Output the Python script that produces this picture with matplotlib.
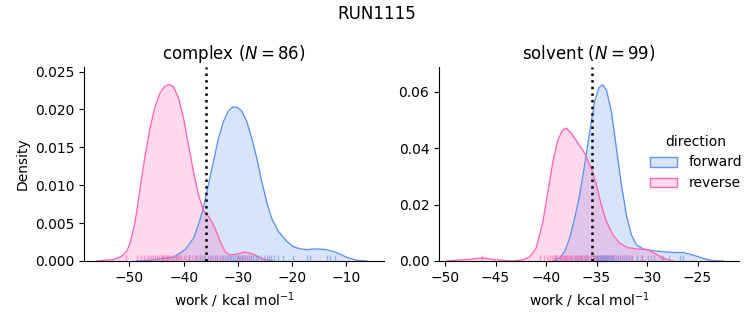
import matplotlib
matplotlib.use("Agg")
import matplotlib.pyplot as plt
import seaborn as sns
from matplotlib.patches import Patch
from matplotlib.colors import to_rgba

# colours per direction
fwd_color = "#6495ED"
rev_color = "#FF69B4"

# ---- complex phase: kde curves ----
cx_fwd_x = [-48.64, -46.18, -44.34, -41.88, -39.72, -38.19, -37.26, -36.34, -35.42, -34.50,
            -33.57, -32.65, -31.73, -30.93, -30.19, -29.27, -28.34, -27.42, -26.50, -25.58,
            -24.66, -23.73, -22.50, -20.96, -19.74, -18.51, -17.27, -15.43, -13.58, -11.74,
            -9.90, -8.05, -6.20]
cx_fwd_y = [0.0, 0.0001, 0.0003, 0.0005, 0.0015, 0.0030, 0.0048, 0.0070, 0.0101, 0.0131,
            0.0162, 0.0184, 0.0198, 0.0203, 0.0203, 0.0198, 0.0184, 0.0162, 0.0136, 0.0105,
            0.0078, 0.0056, 0.0039, 0.0026, 0.0019, 0.0016, 0.0015, 0.0016, 0.0015, 0.0011,
            0.0005, 0.0001, 0.0]
cx_rev_x = [-56.02, -52.95, -51.50, -50.49, -49.87, -48.95, -48.03, -47.10, -46.18, -45.26,
            -44.34, -43.41, -42.61, -41.88, -40.95, -40.03, -39.11, -38.19, -37.26, -36.34,
            -35.11, -34.19, -33.26, -32.34, -31.42, -30.19, -28.65, -27.12, -25.58, -23.43]
cx_rev_y = [0.0, 0.0002, 0.0006, 0.0013, 0.0024, 0.0052, 0.0096, 0.0140, 0.0176, 0.0204,
            0.0222, 0.0231, 0.0233, 0.0230, 0.0215, 0.0189, 0.0153, 0.0118, 0.0087, 0.0067,
            0.0056, 0.0043, 0.0026, 0.0012, 0.0008, 0.0009, 0.0012, 0.0009, 0.0003, 0.0]

# ---- solvent phase: kde curves ----
sv_fwd_x = [-39.32, -38.66, -38.16, -37.67, -37.17, -36.68, -36.18, -35.68, -35.19, -34.76,
            -34.42, -34.03, -33.53, -33.04, -32.54, -32.05, -31.55, -31.05, -30.39, -29.73,
            -28.74, -27.42, -26.43, -25.43, -24.44, -23.45, -22.46]
sv_fwd_y = [0.0, 0.0010, 0.0033, 0.0080, 0.0151, 0.0234, 0.0341, 0.0459, 0.0566, 0.0615,
            0.0625, 0.0607, 0.0530, 0.0400, 0.0270, 0.0163, 0.0092, 0.0057, 0.0043, 0.0038,
            0.0034, 0.0030, 0.0030, 0.0021, 0.0009, 0.0001, 0.0]
sv_rev_x = [-49.90, -47.59, -46.27, -44.94, -43.29, -42.30, -41.64, -40.98, -40.31, -39.82,
            -39.32, -38.83, -38.33, -38.00, -37.50, -36.84, -36.18, -35.52, -35.02, -34.53,
            -34.03, -33.37, -32.71, -31.88, -31.05, -29.90, -29.40, -28.41, -27.42]
sv_rev_y = [0.0, 0.0006, 0.0011, 0.0004, 0.0, 0.0004, 0.0014, 0.0045, 0.0140, 0.0246,
            0.0353, 0.0430, 0.0465, 0.0471, 0.0453, 0.0418, 0.0382, 0.0329, 0.0270, 0.0199,
            0.0140, 0.0092, 0.0063, 0.0047, 0.0043, 0.0040, 0.0030, 0.0010, 0.0]

# ---- individual work values (rug) ----
cx_fwd_work = [-41.5, -39.0, -37.8, -36.9, -36.2, -35.5, -34.9, -34.3, -33.8, -33.2,
               -32.8, -32.3, -31.9, -31.5, -31.2, -30.8, -30.5, -30.2, -29.9, -29.6,
               -29.3, -29.0, -28.6, -28.3, -27.9, -27.5, -27.1, -26.7, -26.2, -25.8,
               -25.2, -24.6, -24.2, -23.9, -23.3, -22.5, -21.6, -19.8, -17.3, -16.7,
               -13.6, -13.0, -12.0]
cx_rev_work = [-50.7, -48.6, -47.9, -47.3, -46.8, -46.4, -46.0, -45.6, -45.2, -44.9,
               -44.5, -44.2, -44.0, -43.9, -43.6, -43.3, -43.0, -42.9, -42.7, -42.4,
               -42.1, -41.8, -41.5, -41.1, -40.8, -40.4, -40.0, -39.5, -39.0, -38.5,
               -37.9, -37.3, -36.6, -36.0, -35.2, -34.5, -33.8, -33.0, -32.0, -29.8,
               -29.3, -28.6, -28.0]
sv_fwd_work = [-39.0, -38.2, -37.6, -37.1, -36.7, -36.4, -36.1, -35.8, -35.6, -35.4,
               -35.3, -35.2, -35.0, -34.95, -34.9, -34.8, -34.7, -34.6, -34.55, -34.5,
               -34.4, -34.3, -34.25, -34.2, -34.1, -34.0, -33.95, -33.9, -33.8, -33.7,
               -33.6, -33.5, -33.4, -33.3, -33.1, -32.9, -32.7, -32.5, -32.3, -32.1,
               -31.8, -31.5, -31.0, -30.5, -29.9, -29.3, -28.4, -27.8, -26.7, -26.4]
sv_rev_work = [-46.3, -40.6, -40.2, -39.9, -39.6, -39.4, -39.2, -39.1, -39.0, -38.8,
               -38.6, -38.5, -38.4, -38.2, -38.1, -38.0, -37.9, -37.8, -37.6, -37.5,
               -37.4, -37.2, -37.0, -36.9, -36.8, -36.6, -36.5, -36.4, -36.2, -36.0,
               -35.9, -35.8, -35.6, -35.4, -35.3, -35.1, -34.8, -34.5, -34.2, -33.9,
               -33.6, -33.3, -32.9, -32.5, -32.0, -31.6, -30.6, -29.6, -28.6]

# free energy estimates (dotted lines)
cx_dg = -35.9
sv_dg = -35.5

fig = plt.figure(figsize=(7.53, 3.25), dpi=100)
ax1 = fig.add_axes([84 / 753, 1 - 261 / 325, 300 / 753, 194 / 325])
ax2 = fig.add_axes([439 / 753, 1 - 261 / 325, 300 / 753, 194 / 325])


def draw_panel(ax, fx, fy, rx, ry, fwork, rwork, dg):
    ax.fill_between(fx, fy, color=fwd_color, alpha=0.25, lw=0)
    ax.plot(fx, fy, color=fwd_color, lw=1)
    ax.fill_between(rx, ry, color=rev_color, alpha=0.25, lw=0)
    ax.plot(rx, ry, color=rev_color, lw=1)
    sns.rugplot(x=fwork, ax=ax, color=fwd_color, height=0.03, alpha=0.6, lw=1)
    sns.rugplot(x=rwork, ax=ax, color=rev_color, height=0.03, alpha=0.6, lw=1)
    ax.axvline(dg, color="black", ls=":", lw=1.8)
    ax.spines["top"].set_visible(False)
    ax.spines["right"].set_visible(False)
    ax.set_xlabel("work / kcal mol$^{-1}$")


draw_panel(ax1, cx_fwd_x, cx_fwd_y, cx_rev_x, cx_rev_y, cx_fwd_work, cx_rev_work, cx_dg)
ax1.set_xlim(-58.4, -3.0)
ax1.set_ylim(0, 0.0256)
ax1.set_xticks([-50, -40, -30, -20, -10])
ax1.set_yticks([0.0, 0.005, 0.010, 0.015, 0.020, 0.025])
ax1.set_ylabel("Density")
ax1.set_title("complex ($N = %d$)" % (len(cx_fwd_work) + len(cx_rev_work)), fontsize=12)

draw_panel(ax2, sv_fwd_x, sv_fwd_y, sv_rev_x, sv_rev_y, sv_fwd_work, sv_rev_work, sv_dg)
ax2.set_xlim(-50.6, -20.9)
ax2.set_ylim(0, 0.0688)
ax2.set_xticks([-50, -45, -40, -35, -30, -25])
ax2.set_yticks([0.0, 0.02, 0.04, 0.06])
ax2.set_title("solvent ($N = %d$)" % (len(sv_fwd_work) + len(sv_rev_work)), fontsize=12)

handles = [Patch(facecolor=to_rgba(fwd_color, 0.25), edgecolor=fwd_color),
           Patch(facecolor=to_rgba(rev_color, 0.25), edgecolor=rev_color)]
fig.legend(handles, ["forward", "reverse"], title="direction", frameon=False,
           loc="center left", bbox_to_anchor=(0.846, 0.5))

fig.suptitle("RUN1115", fontsize=12, y=0.985)
fig.savefig("out.png", dpi=100)
